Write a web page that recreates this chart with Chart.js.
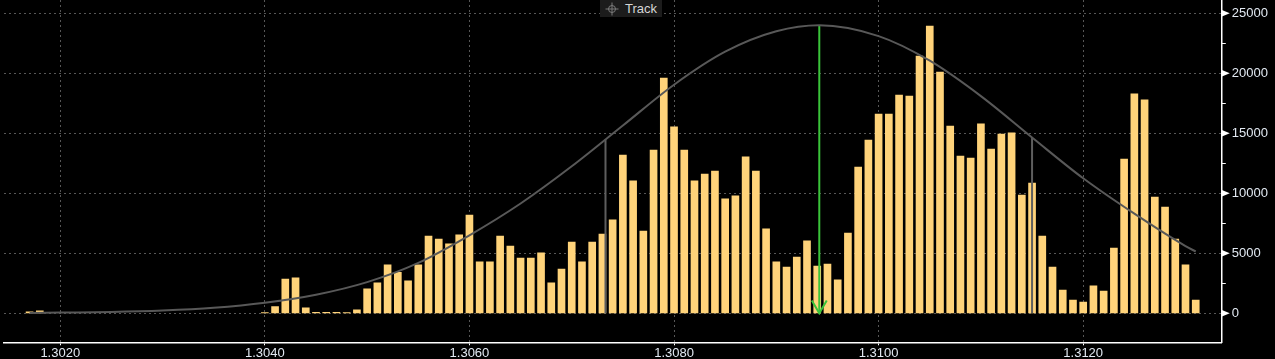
<!DOCTYPE html>
<html>
<head>
<meta charset="utf-8">
<script src="https://cdn.jsdelivr.net/npm/chart.js@4/dist/chart.umd.min.js"></script>
<style>
  html, body { margin: 0; padding: 0; background: #000; }
  #wrap { position: relative; width: 1275px; height: 359px; background: #000; overflow: hidden; }
  #track { position: absolute; left: 600px; top: 0; width: 62px; height: 17px; background: #1c1c1c;
           font: 13px "Liberation Sans", Arial, sans-serif; color: #d6d6d6; line-height: 17px; }
  #track span { position: absolute; left: 25px; top: 0; }
  #track svg { position: absolute; left: 5px; top: 2px; }
</style>
</head>
<body>
<div id="wrap">
  <canvas id="c" width="1275" height="359"></canvas>
  <div id="track"><svg width="14" height="14" viewBox="0 0 14 14"><circle cx="7" cy="7" r="3.5" fill="none" stroke="#7a7a7a" stroke-width="1"/><line x1="7" y1="0.5" x2="7" y2="13.5" stroke="#7a7a7a" stroke-width="1"/><line x1="0.5" y1="7" x2="13.5" y2="7" stroke="#7a7a7a" stroke-width="1"/></svg><span>Track</span></div>
</div>
<script>
// ---- data ----
const prices = [1.3017, 1.3018, 1.3040, 1.3041, 1.3042, 1.3043, 1.3044, 1.3045, 1.3046, 1.3047, 1.3048, 1.3049,
  1.3050, 1.3051, 1.3052, 1.3053, 1.3054, 1.3055, 1.3056, 1.3057, 1.3058, 1.3059,
  1.3060, 1.3061, 1.3062, 1.3063, 1.3064, 1.3065, 1.3066, 1.3067, 1.3068, 1.3069,
  1.3070, 1.3071, 1.3072, 1.3073, 1.3074, 1.3075, 1.3076, 1.3077, 1.3078, 1.3079,
  1.3080, 1.3081, 1.3082, 1.3083, 1.3084, 1.3085, 1.3086, 1.3087, 1.3088, 1.3089,
  1.3090, 1.3091, 1.3092, 1.3093, 1.3094, 1.3095, 1.3096, 1.3097, 1.3098, 1.3099,
  1.3100, 1.3101, 1.3102, 1.3103, 1.3104, 1.3105, 1.3106, 1.3107, 1.3108, 1.3109,
  1.3110, 1.3111, 1.3112, 1.3113, 1.3114, 1.3115, 1.3116, 1.3117, 1.3118, 1.3119,
  1.3120, 1.3121, 1.3122, 1.3123, 1.3124, 1.3125, 1.3126, 1.3127, 1.3128, 1.3129,
  1.3130, 1.3131];
const volumes = [120, 200, 60, 550, 2850, 2950, 450, 80, 80, 80, 70, 280,
  2030, 2530, 4030, 3420, 2700, 4030, 6440, 6190, 5780, 6530,
  8190, 4280, 4280, 6440, 5610, 4610, 4610, 5030, 2530, 3690,
  5940, 4280, 5940, 6610, 7780, 13190, 11030, 6860, 13610, 19610,
  15530, 13610, 11030, 11610, 11860, 9530, 9780, 13030, 11860, 7030,
  4280, 3860, 4690, 6030, 3940, 4110, 2780, 6690, 12190, 14440,
  16610, 16610, 18190, 18110, 21440, 23940, 20110, 15610, 13110, 12940,
  15780, 13690, 14940, 15030, 9860, 10860, 6440, 3860, 1940, 1110,
  940, 2280, 1860, 5440, 12860, 18280, 17780, 9690, 8860, 6190,
  4030, 1110];
const curvePrices = [1.3017, 1.3020, 1.3025, 1.3030, 1.3035, 1.3040, 1.3045, 1.3050, 1.3055, 1.3060,
  1.3065, 1.3070, 1.3075, 1.3080, 1.3085, 1.3090, 1.30942, 1.3100, 1.3105, 1.3110,
  1.3115, 1.3120, 1.3125, 1.3130, 1.3131];
const curveValues = [30, 60, 110, 230, 460, 880, 1550, 2600, 4200, 6500,
  9150, 12250, 15650, 19050, 21800, 23500, 24000, 23100, 21050, 18100,
  14650, 11250, 8300, 5600, 5150];
const valueAreaPrices = [1.30733, 1.3115];
const valueAreaTops = [14500, 14600];
const pocPrice = 1.30942;
const pocTop = 24000;
const yTickValues = [0, 5000, 10000, 15000, 20000, 25000];

// ---- build datasets ----
const barData = prices.map((p, i) => ({ x: p, y: volumes[i] }));
const curveData = curvePrices.map((p, i) => ({ x: p, y: curveValues[i] }));
const vaDatasets = valueAreaPrices.map((p, i) => ({
  type: 'line', data: [{ x: p, y: 0 }, { x: p, y: valueAreaTops[i] }],
  borderColor: '#5e5e5e', borderWidth: 2, pointRadius: 0, order: 1
}));
const arrowDx = 0.000073, arrowDy = 1070;

const labelColor = '#e2e9f2';
const fontFam = '"Liberation Sans", Arial, sans-serif';

const axisDecor = {
  id: 'axisDecor',
  afterDraw(chart) {
    const ctx = chart.ctx, y = chart.scales.y, x0 = chart.chartArea.right;
    ctx.save();
    ctx.fillStyle = '#ffffff';
    ctx.strokeStyle = '#ffffff';
    ctx.lineWidth = 1;
    yTickValues.forEach(v => {
      const py = y.getPixelForValue(v);
      ctx.beginPath();
      ctx.moveTo(x0, py - 3.5);
      ctx.lineTo(x0 + 8.5, py);
      ctx.lineTo(x0, py + 3.5);
      ctx.closePath();
      ctx.fill();
    });
    for (let v = 2500; v < 26000; v += 5000) {
      const py = Math.round(y.getPixelForValue(v)) + 0.5;
      ctx.beginPath();
      ctx.moveTo(x0, py);
      ctx.lineTo(x0 + 4.5, py);
      ctx.stroke();
    }
    ctx.restore();
  }
};

new Chart(document.getElementById('c'), {
  type: 'bar',
  data: {
    datasets: [
      { type: 'line', data: curveData, borderColor: '#585858', borderWidth: 2, pointRadius: 0,
        cubicInterpolationMode: 'monotone', order: 0 },
      ...vaDatasets,
      { type: 'line', data: [{ x: pocPrice, y: pocTop }, { x: pocPrice, y: 0 }],
        borderColor: '#3ac43a', borderWidth: 2, pointRadius: 0, order: 0 },
      { type: 'line', data: [{ x: pocPrice - arrowDx, y: arrowDy }, { x: pocPrice, y: 0 }, { x: pocPrice + arrowDx, y: arrowDy }],
        borderColor: '#3ac43a', borderWidth: 2, pointRadius: 0, order: 0, clip: false },
      { type: 'bar', data: barData, backgroundColor: '#ffd37a', borderWidth: 0,
        barThickness: 7, order: 2 }
    ]
  },
  options: {
    responsive: false,
    animation: false,
    events: [],
    layout: { padding: { left: 4, top: 0, right: 0, bottom: 0 } },
    plugins: { legend: { display: false }, tooltip: { enabled: false } },
    scales: {
      x: {
        type: 'linear',
        offset: false,
        min: 1.30145,
        max: 1.31335,
        afterFit(s) { s.height = 16.7; s.paddingLeft = 0; s.paddingRight = 0; },
        grid: { offset: false, color: '#575757', lineWidth: 1, drawTicks: true, tickLength: 3,
                tickColor: '#ffffff', tickWidth: 1 },
        border: { display: true, color: '#ffffff', width: 1.5, dash: [2, 3] },
        ticks: {
          stepSize: 0.002, includeBounds: false, autoSkip: false, maxRotation: 0, padding: 0,
          color: labelColor, font: { family: fontFam, size: 13 },
          callback: v => v.toFixed(4)
        }
      },
      y: {
        type: 'linear',
        position: 'right',
        min: -2416.7,
        max: 26108,
        afterFit(s) { s.width = 53.7; s.paddingTop = 0; s.paddingBottom = 0; },
        afterBuildTicks(s) { s.ticks = yTickValues.map(v => ({ value: v })); },
        grid: { color: '#575757', lineWidth: 1, drawTicks: true, tickLength: 9, tickColor: 'rgba(0,0,0,0)' },
        border: { display: true, color: '#ffffff', width: 1.5, dash: [2, 3] },
        ticks: {
          includeBounds: false, padding: 1.5,
          color: labelColor, font: { family: fontFam, size: 13 },
          callback: v => String(v)
        }
      }
    }
  },
  plugins: [axisDecor]
});
</script>
</body>
</html>
